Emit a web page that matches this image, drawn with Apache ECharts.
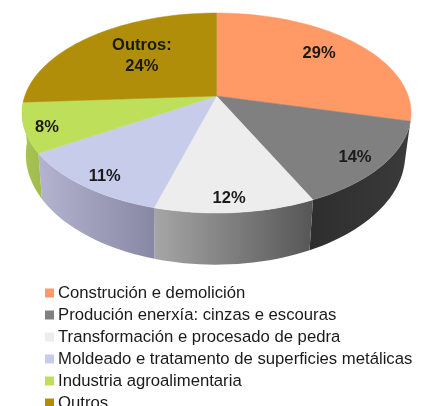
<!DOCTYPE html>
<html>
<head>
<meta charset="utf-8">
<style>
  html, body { margin: 0; padding: 0; background: #fff; overflow: hidden; }
  #chart { width: 426px; height: 406px; }
</style>
<script src="https://cdn.jsdelivr.net/npm/echarts@6/dist/echarts.min.js"></script>
</head>
<body>
<div id="chart"></div>
<script>
const categories = [
  'Construción e demolición',
  'Produción enerxía: cinzas e escouras',
  'Transformación e procesado de pedra',
  'Moldeado e tratamento de superficies metálicas',
  'Industria agroalimentaria',
  'Outros'
];
// printed labels do not add up to 100, so the slice sizes are read from the drawing
const values = [29, 14, 11.4, 11.6, 8, 26];
const labels = ['29%', '14%', '12%', '11%', '8%', 'Outros:\n24%'];

const topColors = ['#FF9966', '#808080', '#EDEDED', '#C8CCEB', '#BEDF5A', '#B08E0A'];
// left and right colour of the outer wall, null where the wall is hidden
const wallColors = [
  null,
  ['#2E2E2E', '#3A3A3A'],
  ['#A6A6A6', '#565656'],
  ['#B4B4D0', '#8888A4'],
  ['#A8C454', '#A0BC4C'],
  null
];
// where each label sits on the disc: degrees from the top, share of the radius
const labelAngle = [49.7, 130.5, 176.4, 215.6, 250.7, 317.4];
const labelRadius = [0.76, 0.86, 0.885, 0.88, 0.89, 0.62];

// the tilted disc, the first slice starts at 12 o'clock
const total = values.reduce((a, b) => a + b, 0);
const cx = 216.5, cy = 96;
const scaleX = 191.7, scaleY = 97.1, tilt = 0.17;
const bottomX = 0.975, bottomY = 1.1, bottomShift = -1, depth = 40;

const project = (deg, r) => {
  const a = deg * Math.PI / 180;
  const x = r * Math.sin(a), y = -r * Math.cos(a);
  const w = 1 - tilt * y;
  return [scaleX * x / w, scaleY * y / w];
};
const arc = (from, to) => {
  const pts = [];
  const n = Math.max(2, Math.ceil((to - from) / 2));
  for (let i = 0; i <= n; i++) pts.push(project(from + (to - from) * i / n, 1));
  return pts;
};

let sum = 0;
const slices = values.map((v) => {
  const from = sum / total * 360;
  sum += v;
  return { from, to: sum / total * 360 };
});

const renderSlice = (i) => () => {
  const { from, to } = slices[i];
  const rim = arc(from, to);
  const children = [];
  if (wallColors[i]) {
    const upper = rim.map(p => [cx + p[0], cy + p[1]]);
    const lower = rim.map(p => [cx + bottomShift + p[0] * bottomX, cy + depth + p[1] * bottomY]).reverse();
    children.push({
      type: 'polygon',
      shape: { points: upper.concat(lower) },
      style: {
        fill: new echarts.graphic.LinearGradient(0, 0, 1, 0, [
          { offset: 0, color: wallColors[i][0] },
          { offset: 1, color: wallColors[i][1] }
        ])
      }
    });
  }
  children.push({
    type: 'polygon',
    shape: { points: [[cx, cy]].concat(rim.map(p => [cx + p[0], cy + p[1]])) },
    style: { fill: topColors[i], stroke: topColors[i], lineWidth: 0.5 }
  });
  const at = project(labelAngle[i], labelRadius[i]);
  children.push({
    type: 'text',
    z2: 10,
    x: cx + at[0],
    y: cy + at[1] + 1.5,
    style: {
      text: labels[i],
      fill: '#1a1a1a',
      font: 'bold 16.5px "Liberation Sans", Arial, sans-serif',
      lineHeight: 21,
      align: 'center',
      verticalAlign: 'middle'
    }
  });
  return { type: 'group', children };
};

const myChart = echarts.init(document.getElementById('chart'));
myChart.setOption({
  animation: false,
  backgroundColor: '#fff',
  legend: {
    orient: 'vertical',
    left: 45,
    top: 284,
    height: 200,
    padding: 0,
    itemWidth: 9,
    itemHeight: 9,
    itemGap: 4,
    selectedMode: false,
    icon: 'rect',
    data: categories,
    textStyle: {
      fontFamily: '"Liberation Sans", Arial, sans-serif',
      fontSize: 16.7,
      lineHeight: 18,
      color: '#1a1a1a',
      padding: [0, 0, 0, -1]
    }
  },
  series: categories.map((name, i) => ({
    type: 'custom',
    name,
    coordinateSystem: 'none',
    itemStyle: { color: topColors[i] },
    data: [values[i]],
    renderItem: renderSlice(i)
  }))
});
</script>
</body>
</html>
